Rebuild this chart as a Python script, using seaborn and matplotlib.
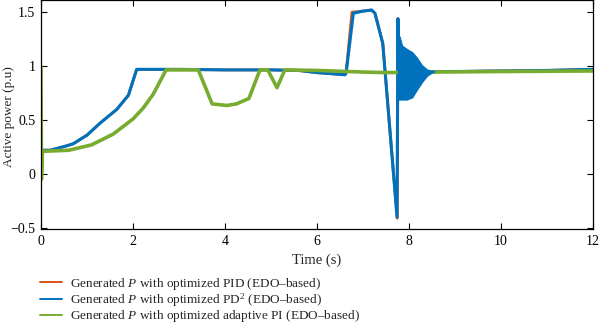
import numpy as np
import pandas as pd
import seaborn as sns
import matplotlib
matplotlib.use("Agg")
import matplotlib.pyplot as plt
from matplotlib.ticker import FuncFormatter

# ---- data ----
pid_t = [0.0, 0.2, 0.55, 0.7, 1.0, 1.28, 1.65, 1.9, 2.08, 3.0, 4.0, 5.0, 5.6, 6.0, 6.61,
         6.63, 6.76, 7.0, 7.18, 7.26, 7.43, 7.59, 7.745, 7.76, 7.77, 8.6, 9.0, 10.0, 11.0, 12.0]
pid_p = [0.22, 0.22, 0.26, 0.28, 0.36, 0.47, 0.60, 0.73, 0.97, 0.97, 0.965, 0.965, 0.96, 0.94, 0.92,
         0.93, 1.50, 1.51, 1.52, 1.49, 1.21, 0.38, -0.41, 1.44, 0.95, 0.95, 0.95, 0.955, 0.96, 0.97]

pd2_t = [0.0, 0.2, 0.55, 0.7, 1.0, 1.28, 1.65, 1.9, 2.08, 3.0, 4.0, 5.0, 5.6, 6.0, 6.61,
         6.64, 6.79, 7.0, 7.19, 7.26, 7.43, 7.59, 7.74, 7.76, 7.77, 8.6, 9.0, 10.0, 11.0, 12.0]
pd2_p = [0.22, 0.22, 0.26, 0.28, 0.36, 0.47, 0.60, 0.73, 0.97, 0.97, 0.965, 0.965, 0.96, 0.94, 0.92,
         0.96, 1.49, 1.51, 1.52, 1.49, 1.21, 0.38, -0.40, 1.44, 0.95, 0.95, 0.95, 0.955, 0.96, 0.97]

# oscillation envelope of the PD^2 response after the fault
osc_t = [7.76, 7.80, 7.85, 7.95, 8.07, 8.17, 8.28, 8.39, 8.46, 8.55]
osc_hi = [1.30, 1.27, 1.19, 1.16, 1.13, 1.08, 1.01, 0.97, 0.96, 0.955]
osc_lo = [0.69, 0.69, 0.69, 0.69, 0.71, 0.78, 0.85, 0.91, 0.93, 0.95]

api_t = [0.0, 0.01, 0.03, 0.6, 1.1, 1.57, 2.0, 2.22, 2.44, 2.72, 3.42, 3.72, 4.04, 4.25, 4.52,
         4.76, 4.93, 5.13, 5.3, 6.0, 7.0, 7.5, 8.5, 10.0, 12.0]
api_p = [1.0, -0.05, 0.21, 0.22, 0.27, 0.37, 0.51, 0.61, 0.74, 0.965, 0.965, 0.65, 0.635, 0.65, 0.70,
         0.965, 0.965, 0.80, 0.965, 0.96, 0.945, 0.94, 0.945, 0.95, 0.955]

labels = ["Generated $P$ with optimized PID (EDO\u2013based)",
          "Generated $P$ with optimized PD$^2$ (EDO\u2013based)",
          "Generated $P$ with optimized adaptive PI (EDO\u2013based)"]
colors = ["#D95319", "#0072BD", "#77AC30"]
x_ticks = [0, 2, 4, 6, 8, 10, 12]
y_ticks = [-0.5, 0, 0.5, 1, 1.5]

# ---- style ----
sns.set_style("ticks")
plt.rcParams["font.family"] = ["Liberation Serif", "DejaVu Serif"]
plt.rcParams["mathtext.fontset"] = "custom"
plt.rcParams["mathtext.rm"] = "Liberation Serif"
plt.rcParams["mathtext.it"] = "Liberation Serif:italic"

fig = plt.figure(figsize=(6.0, 3.26), dpi=100)
ax = fig.add_axes([41 / 600, 1 - 229 / 326, 552 / 600, 229 / 326 - 0.001])

df_pid = pd.DataFrame({"t": pid_t, "p": pid_p})
df_pd2 = pd.DataFrame({"t": pd2_t, "p": pd2_p})
df_api = pd.DataFrame({"t": api_t, "p": api_p})

sns.lineplot(data=df_pid, x="t", y="p", sort=False, estimator=None, color=colors[0],
             lw=2.0, ax=ax, label=labels[0])
sns.lineplot(data=df_pd2, x="t", y="p", sort=False, estimator=None, color=colors[1],
             lw=2.2, ax=ax, label=labels[1])
ax.fill_between(osc_t, osc_lo, osc_hi, color=colors[1], lw=0.8, zorder=2.5)
sns.lineplot(data=df_api, x="t", y="p", sort=False, estimator=None, color=colors[2],
             lw=2.6, ax=ax, label=labels[2])

ax.set_xlim(0, 12)
ax.set_ylim(-0.51, 1.61)
ax.set_xticks(x_ticks)
ax.set_yticks(y_ticks)
ax.yaxis.set_major_formatter(FuncFormatter(lambda v, _: ("%g" % v).replace("-", "\u2212")))
ax.tick_params(direction="in", length=4, width=0.8, top=True, right=True,
               labelsize=10, colors="black", pad=4)
for s in ax.spines.values():
    s.set_visible(True)
    s.set_linewidth(0.9)
    s.set_color("black")
ax.set_xlabel("Time (s)", fontsize=10.5, labelpad=4)
ax.set_ylabel("Active power (p.u)", fontsize=9.5)
ax.yaxis.set_label_coords(-0.047, 0.49)

ax.get_legend().remove()
handles, labs = ax.get_legend_handles_labels()
leg = fig.legend(handles, labs, loc="upper left", bbox_to_anchor=(40 / 600, 1 - 276 / 326),
                 frameon=False, fontsize=9.5, handlelength=1.65, handletextpad=0.6,
                 labelspacing=-0.05, borderpad=0, borderaxespad=0)
for ln in leg.get_lines():
    ln.set_linewidth(1.4)

fig.savefig("out.png", dpi=100)
